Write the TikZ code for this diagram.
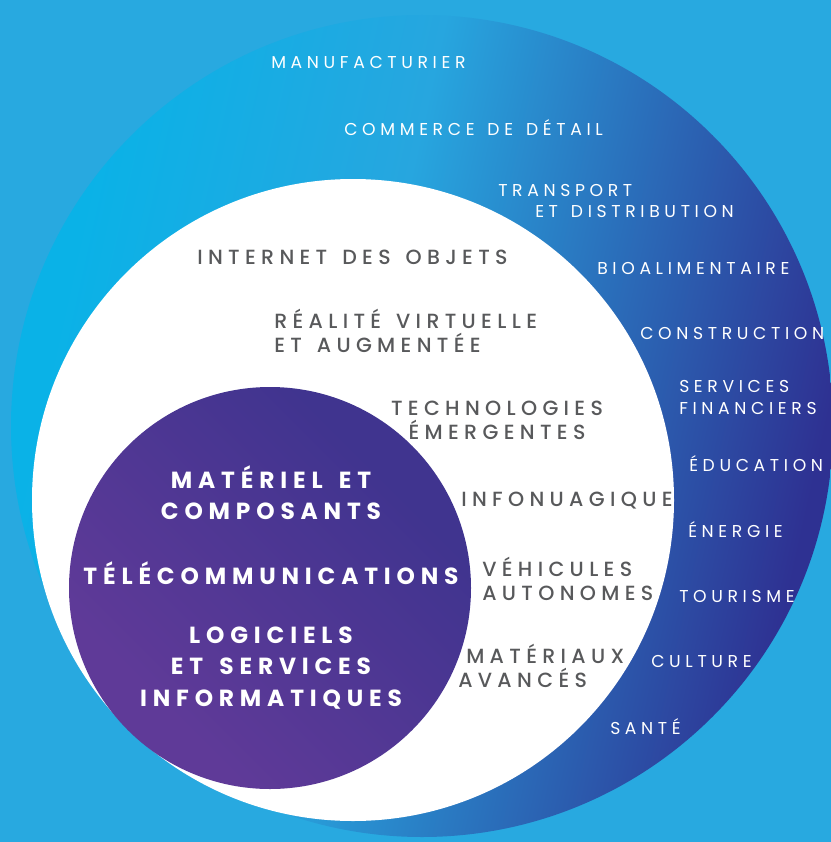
\documentclass[tikz,border=0pt]{standalone}
\usepackage{fontspec}
\usepackage{xcolor}
\setmainfont{Poppins}
\newfontfamily\ringfont[LetterSpace=27,WordSpace=1.4]{Poppins}
\newfontfamily\techfont[LetterSpace=26,WordSpace=1.4]{Poppins Medium}
\newfontfamily\corefont[LetterSpace=25,WordSpace=1.5]{Poppins Bold}

\definecolor{skyblue}{HTML}{28A9E0}
\definecolor{ringcyan}{HTML}{0AB2E7}
\definecolor{ringlight}{HTML}{27A6DF}
\definecolor{ringnavy}{HTML}{2E3192}
\definecolor{coreviolet}{HTML}{5F3A98}
\definecolor{coreindigo}{HTML}{40348F}
\definecolor{techgray}{HTML}{58595B}

\pgfdeclarehorizontalshading{ringshade}{100bp}{color(0bp)=(ringcyan); color(27bp)=(ringcyan); color(46bp)=(ringlight); color(74bp)=(ringnavy); color(100bp)=(ringnavy)}
\pgfdeclarehorizontalshading{coreshade}{100bp}{color(0bp)=(coreviolet); color(30bp)=(coreviolet); color(70bp)=(coreindigo); color(100bp)=(coreindigo)}

\begin{document}
\begin{tikzpicture}[x=0.75pt,y=0.75pt,yscale=-1,xscale=1,
  ring/.style={anchor=west, inner sep=0pt, align=left, text=white, font=\ringfont\fontsize{12.9}{16}\selectfont},
  tech/.style={anchor=west, inner sep=0pt, align=left, text=techgray, font=\techfont\fontsize{15.4}{18}\selectfont},
  core/.style={inner sep=0pt, align=center, text=white, font=\corefont\fontsize{17.5}{23.6}\selectfont}]
\clip (0,0) rectangle (831,842);

%Shape: Rectangle [background]
\fill[skyblue] (0,0) rectangle (831,842);
%Shape: Circle [sectors]
\shade[shading=ringshade, shading angle=-12.5] (422,426) circle (411);
%Shape: Circle [technologies]
\fill[white] (353,500) circle (321);
%Shape: Circle [core]
\shade[shading=coreshade, shading angle=45] (270,588) circle (201);

% Text Node
\draw (271,62) node (manuf) [ring] {MANUFACTURIER};
% Text Node
\draw (344,128) node (retail) [ring] {COMMERCE DE DÉTAIL};
% Text Node
\draw (498,201) node (transport) [ring] {TRANSPORT\\\hspace*{27.75pt}ET DISTRIBUTION};
% Text Node
\draw (597,268) node (agri) [ring] {BIOALIMENTAIRE};
% Text Node
\draw (640,333) node (construct) [ring] {CONSTRUCTION};
% Text Node
\draw (679,397.5) node (finance) [ring] {SERVICES\\FINANCIERS};
% Text Node
\draw (689,464) node (educ) [ring] {ÉDUCATION};
% Text Node
\draw (688,530) node (energy) [ring] {ÉNERGIE};
% Text Node
\draw (679,596) node (tourism) [ring] {TOURISME};
% Text Node
\draw (651,661) node (culture) [ring] {CULTURE};
% Text Node
\draw (610,727) node (health) [ring] {SANTÉ};

% Text Node
\draw (197,257) node (iot) [tech] {INTERNET DES OBJETS};
% Text Node
\draw (274,331) node (vr) [tech] {RÉALITÉ VIRTUELLE\\ET AUGMENTÉE};
% Text Node
\draw (497,420) node (emerging) [tech, anchor=center, align=center] {TECHNOLOGIES\\ÉMERGENTES};
% Text Node
\draw (461,501) node (cloud) [tech] {INFONUAGIQUE};
% Text Node
\draw (482,578.5) node (auto) [tech] {VÉHICULES\\AUTONOMES};
% Text Node
\draw (458,666) node (materials) [tech] {\hspace*{6pt}MATÉRIAUX\\AVANCÉS};

% Text Node
\draw (271,492.5) node (hardware) [core] {MATÉRIEL ET\\COMPOSANTS};
% Text Node
\draw (271,573) node (telecom) [core] {TÉLÉCOMMUNICATIONS};
% Text Node
\draw (271,668) node (software) [core] {LOGICIELS\\ET SERVICES\\INFORMATIQUES};

\end{tikzpicture}
\end{document}
